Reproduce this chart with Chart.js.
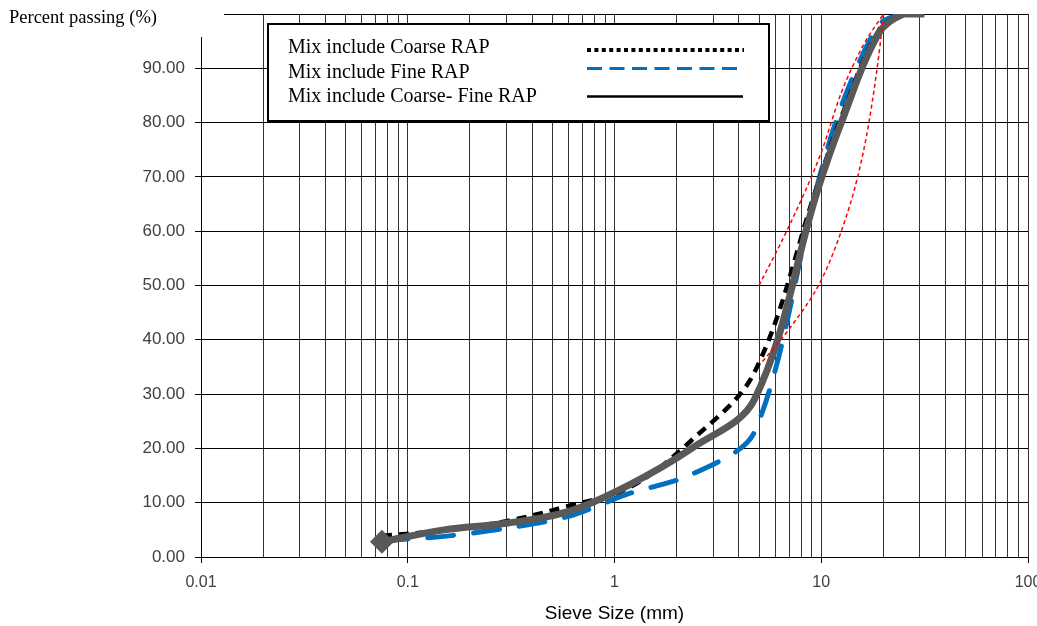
<!DOCTYPE html>
<html>
<head>
<meta charset="utf-8">
<script src="https://cdn.jsdelivr.net/npm/chart.js@4.4.1/dist/chart.umd.min.js"></script>
<style>
  html, body { margin: 0; padding: 0; background: #fff; overflow: hidden; }
  #wrap { position: relative; width: 1060px; height: 626px; }
</style>
</head>
<body>
<div id="wrap"><canvas id="myChart"></canvas></div>
<script>
// sieve sizes (mm)
const sieves = [0.075, 0.15, 0.3, 0.6, 1.18, 2.36, 4.75, 9.5, 12.5, 19, 25, 31.5];
// percent passing
const coarseRap = [3.9, 4.9, 6.6, 9.4, 12.8, 21.5, 34, 68, 81, 97, 100, 100];
const fineRap = [3.0, 3.8, 5.3, 7.5, 11.7, 15.2, 23, 68, 83, 98, 100, 100];
const coarseFineRap = [2.8, 5.0, 6.2, 8.4, 13.3, 20, 29, 67, 80, 96.5, 100, 100];
// red envelope
const upperSizes = [5, 7, 10, 12.5, 16, 20];
const upperLimit = [50, 61, 74.5, 85.5, 94.3, 100];
const lowerSizes = [5.2, 7, 10, 12.5, 15, 17, 19, 20];
const lowerLimit = [36, 42, 51, 60, 70, 80, 92.5, 100];
// axes
const xLabels = [0.01, 0.1, 1, 10, 100];
const yTicks = [0, 10, 20, 30, 40, 50, 60, 70, 80, 90, 100];

const legendItems = ['Mix include Coarse RAP', 'Mix include Fine RAP', 'Mix include Coarse- Fine RAP'];

// minor log grid: 1..9 per decade
const xGrid = [];
xLabels.slice(0, -1).forEach(d => {
    for (let k = 1; k < 10; k++) xGrid.push(+(d * k).toPrecision(3));
});
xGrid.push(xLabels[xLabels.length - 1]);

const pts = (xs, ys) => xs.map((x, i) => ({x: x, y: ys[i]}));

const extras = {
    id: 'extras',
    afterDraw(chart) {
        const c = chart.ctx;
        c.save();
        // white patch top-left like the source
        c.fillStyle = '#fff';
        c.fillRect(0, 0, 224, 37);
        c.fillStyle = '#000';
        c.font = '18.5px "Liberation Serif", "Times New Roman", serif';
        c.textBaseline = 'alphabetic';
        c.fillText('Percent passing (%)', 9, 23);

        // legend box
        c.fillStyle = '#fff';
        c.fillRect(268, 24, 501, 97);
        c.strokeStyle = '#000';
        c.lineWidth = 2;
        c.strokeRect(268, 24, 501, 97);
        c.font = '20px "Liberation Serif", "Times New Roman", serif';
        c.fillStyle = '#000';
        const base = [53, 77.5, 102];
        const lineY = [50, 68.5, 96.5];
        legendItems.forEach((t, i) => c.fillText(t, 288, base[i]));
        c.lineCap = 'butt';
        // dotted
        c.strokeStyle = '#000';
        c.lineWidth = 4;
        c.setLineDash([4, 3.4]);
        c.beginPath(); c.moveTo(587, lineY[0]); c.lineTo(744, lineY[0]); c.stroke();
        // dashed blue
        c.strokeStyle = '#0070C0';
        c.lineWidth = 3;
        c.setLineDash([15, 7.5]);
        c.beginPath(); c.moveTo(587, lineY[1]); c.lineTo(744, lineY[1]); c.stroke();
        // solid
        c.strokeStyle = '#000';
        c.lineWidth = 2.5;
        c.setLineDash([]);
        c.beginPath(); c.moveTo(587, lineY[2]); c.lineTo(743, lineY[2]); c.stroke();
        c.restore();
    }
};

const tickFont = {family: '"Liberation Sans", Arial, sans-serif', size: 16};

new Chart(document.getElementById('myChart'), {
    type: 'line',
    data: {
        datasets: [
            {
                label: 'upper',
                data: pts(upperSizes, upperLimit),
                borderColor: '#ff0000',
                borderWidth: 1.5,
                borderDash: [4, 3],
                pointRadius: 0,
                cubicInterpolationMode: 'monotone',
                order: 0
            },
            {
                label: 'lower',
                data: pts(lowerSizes, lowerLimit),
                borderColor: '#ff0000',
                borderWidth: 1.5,
                borderDash: [4, 3],
                pointRadius: 0,
                cubicInterpolationMode: 'monotone',
                order: 0
            },
            {
                label: legendItems[2],
                data: pts(sieves, coarseFineRap),
                borderColor: '#595959',
                backgroundColor: '#595959',
                borderWidth: 7,
                pointStyle: 'rectRot',
                pointRadius: (ctx) => ctx.dataIndex === 0 ? 7 : 0,
                tension: 0.35,
                clip: {left: 10, right: 0, top: 0, bottom: 10},
                order: 1
            },
            {
                label: legendItems[0],
                data: pts(sieves, coarseRap),
                borderColor: '#000',
                borderWidth: 4.5,
                borderDash: [10, 7],
                pointRadius: 0,
                tension: 0.35,
                clip: 0,
                order: 2
            },
            {
                label: legendItems[1],
                data: pts(sieves, fineRap),
                borderColor: '#0070C0',
                borderWidth: 5,
                borderDash: [26, 20],
                borderCapStyle: 'round',
                pointRadius: 0,
                tension: 0.3,
                clip: 0,
                order: 3
            }
        ]
    },
    options: {
        responsive: true,
        maintainAspectRatio: false,
        animation: false,
        layout: {padding: {left: 0, right: 32, top: 14, bottom: 0}},
        plugins: {
            legend: {display: false},
            tooltip: {enabled: false}
        },
        scales: {
            x: {
                type: 'logarithmic',
                min: 0.01,
                max: 100,
                afterBuildTicks: (scale) => {
                    scale.ticks = xGrid.map(v => ({value: v, major: xLabels.includes(v)}));
                },
                afterFit: (scale) => { scale.height = 69; },
                ticks: {
                    autoSkip: false,
                    maxRotation: 0,
                    padding: 10,
                    color: '#404040',
                    font: tickFont,
                    callback: (v) => xLabels.includes(v) ? String(v) : ''
                },
                grid: {
                    color: '#333',
                    lineWidth: 1,
                    tickLength: 6,
                    tickColor: (ctx) => ctx.tick && ctx.tick.major ? '#000' : 'rgba(0,0,0,0)'
                },
                border: {color: '#000', width: 1},
                title: {
                    display: true,
                    text: 'Sieve Size (mm)',
                    color: '#000',
                    font: {family: '"Liberation Sans", Arial, sans-serif', size: 19},
                    padding: {top: 4, bottom: 1}
                }
            },
            y: {
                min: 0,
                max: 100,
                afterBuildTicks: (scale) => {
                    scale.ticks = yTicks.map(v => ({value: v}));
                },
                afterFit: (scale) => {
                    scale.width = 201;
                    scale.paddingTop = 0;
                    scale.paddingBottom = 0;
                },
                ticks: {
                    padding: 10,
                    color: '#404040',
                    font: {family: '"Liberation Sans", Arial, sans-serif', size: 17},
                    callback: (v) => v === 100 ? '' : v.toFixed(2)
                },
                grid: {
                    color: '#000',
                    lineWidth: 1,
                    tickLength: 6,
                    tickColor: '#000'
                },
                border: {color: '#000', width: 1}
            }
        }
    },
    plugins: [extras]
});
</script>
</body>
</html>
